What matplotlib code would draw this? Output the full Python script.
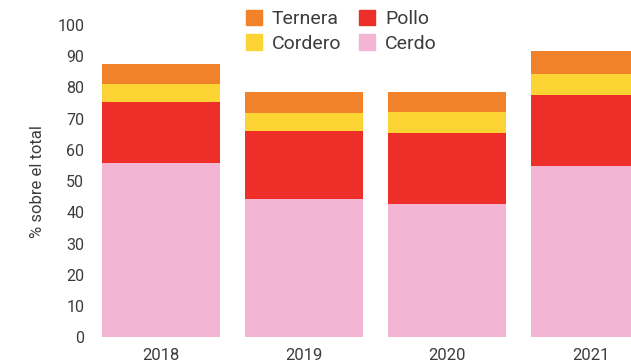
import matplotlib.pyplot as plt
from matplotlib.patches import Patch

years = ["2018", "2019", "2020", "2021"]
cerdo = [55.8, 44.3, 42.7, 54.8]
pollo = [19.5, 21.7, 22.7, 22.8]
cordero = [5.8, 5.8, 6.7, 6.7]
ternera = [6.4, 6.7, 6.4, 7.4]

colors = {"Ternera": "#F2822A", "Cordero": "#FCD535",
          "Pollo": "#EE2E29", "Cerdo": "#F2B5D4"}
txt = "#3c3c3c"

plt.rcParams['font.family'] = ["Roboto", "DejaVu Sans"]

fig = plt.figure(figsize=(6.31, 3.61), dpi=100)
ax = fig.add_axes([0.16, 0.0657, 0.871, 0.8653])

x = range(len(years))
w = 0.825
bottom = [0] * len(years)
for name, vals in [("Cerdo", cerdo), ("Pollo", pollo), ("Cordero", cordero), ("Ternera", ternera)]:
    ax.bar(x, vals, w, bottom=bottom, color=colors[name], linewidth=0)
    bottom = [b + v for b, v in zip(bottom, vals)]

ax.set_xlim(-0.42, 3.42)
ax.set_ylim(0, 100)
ax.set_yticks(range(0, 101, 10))
ax.set_xticks(list(x))
ax.set_xticklabels(years)
ax.tick_params(length=0, labelsize=11.5, colors=txt)
ax.tick_params(axis='y', pad=12)
ax.tick_params(axis='x', pad=8)
ax.tick_params(axis='x', labelsize=12)
for s in ax.spines.values():
    s.set_visible(False)
ax.set_ylabel("% sobre el total", fontsize=12, color=txt, labelpad=9)

handles = [Patch(color=colors[n]) for n in ["Ternera", "Cordero", "Pollo", "Cerdo"]]
fig.legend(handles, ["Ternera", "Cordero", "Pollo", "Cerdo"], ncol=2,
           loc="upper left", bbox_to_anchor=(246 / 631, 1 - 10 / 361),
           frameon=False, borderpad=0, borderaxespad=0, fontsize=14,
           handlelength=0.84, handleheight=0.84, handletextpad=0.5,
           columnspacing=0.9, labelspacing=0.3, labelcolor=txt)

fig.savefig("out.png", dpi=100)
